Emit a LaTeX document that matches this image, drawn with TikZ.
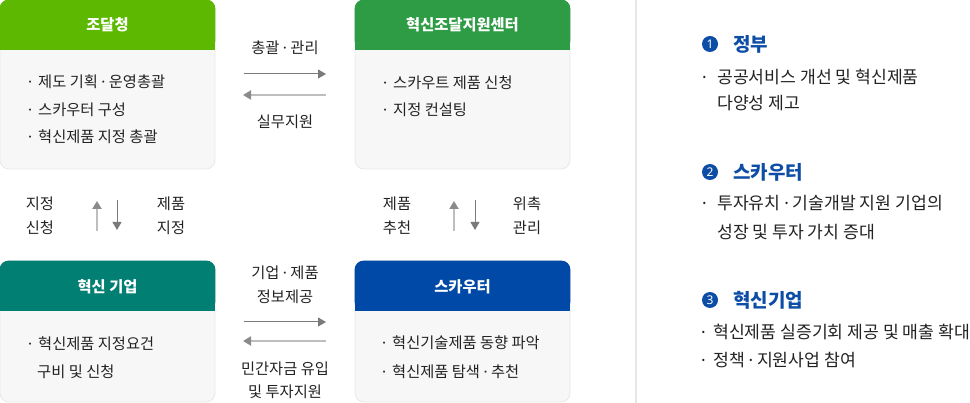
\documentclass[tikz,border=0pt]{standalone}
\usepackage{fontspec}
\setmainfont{Noto Sans CJK KR}
\newfontfamily\dotfont{Noto Sans}
\usetikzlibrary{arrows.meta}
\definecolor{cgA}{HTML}{5CB800}
\definecolor{cgB}{HTML}{2E9C45}
\definecolor{cteal}{HTML}{007F72}
\definecolor{cblue}{HTML}{0049A7}
\definecolor{chead}{HTML}{0D4DA5}
\definecolor{cbody}{HTML}{F7F7F7}
\definecolor{cbord}{HTML}{E8E8E8}
\definecolor{ctext}{HTML}{222222}
\definecolor{cfwd}{HTML}{7A7A7A}
\definecolor{cback}{HTML}{BEBEBE}
\definecolor{cbackhd}{HTML}{8A8A8A}
\definecolor{cdiv}{HTML}{E6E6E6}
\tikzset{
  bodybox/.style={draw=cbord, fill=cbody, line width=0.8pt, rounded corners=9pt,
    minimum width=215pt, minimum height=#1, inner sep=0pt},
  hdrtxt/.style={text=white, font=\bfseries\fontsize{15.3}{17}\selectfont, inner sep=0pt},
  bodytxt/.style={anchor=west, font=\fontsize{15.3}{17}\selectfont, text=ctext, inner sep=0pt},
  lbl/.style={font=\fontsize{15.3}{17}\selectfont, text=ctext, inner sep=0pt},
  rtxt/.style={anchor=west, font=\fontsize{17.2}{19}\selectfont, text=ctext, inner sep=0pt},
  rhead/.style={anchor=west, font=\bfseries\fontsize{19}{21}\selectfont, text=chead, inner sep=0pt},
  numdot/.style={circle, fill=chead, text=white, minimum size=16pt, inner sep=0pt,
    font=\dotfont\bfseries\fontsize{12}{12}\selectfont},
  fwd/.style={draw=cfwd, line width=1pt, -{Triangle[width=9pt,length=8pt]}},
  back/.style={draw=cback, line width=2.2pt, -{Triangle[width=9pt,length=8pt,color=cbackhd]}},
}
\newcommand{\md}{{\dotfont ·}}
\newcommand{\bl}[1]{\makebox[10pt][l]{\md}#1}
\begin{document}
\begin{tikzpicture}[x=1pt,y=-1pt]
\useasboundingbox (0,0) rectangle (970,403);

% ---------- boxes ----------
\node[bodybox=169pt] (b1) at (107.5,84.5) {};
\node[bodybox=169pt] (b2) at (462.5,84.5) {};
\node[bodybox=141pt] (b3) at (107.5,331.5) {};
\node[bodybox=141pt] (b4) at (462.5,331.5) {};

% headers
\fill[cgA, rounded corners=9pt] (b1.north west) rectangle ([yshift=-50pt]b1.north east);
\fill[cgA] ([yshift=-30pt]b1.north west) rectangle ([yshift=-50pt]b1.north east);
\fill[cgB, rounded corners=9pt] (b2.north west) rectangle ([yshift=-50pt]b2.north east);
\fill[cgB] ([yshift=-30pt]b2.north west) rectangle ([yshift=-50pt]b2.north east);
\fill[cteal, rounded corners=9pt] (b3.north west) rectangle ([yshift=-50pt]b3.north east);
\fill[cteal] ([yshift=-30pt]b3.north west) rectangle ([yshift=-50pt]b3.north east);
\fill[cblue, rounded corners=9pt] (b4.north west) rectangle ([yshift=-50pt]b4.north east);
\fill[cblue] ([yshift=-30pt]b4.north west) rectangle ([yshift=-50pt]b4.north east);

\node[hdrtxt] (h1) at (107.5,25) {조달청};
\node[hdrtxt] (h2) at (462.5,25) {혁신조달지원센터};
\node[hdrtxt] (h3) at (107.5,287) {혁신 기업};
\node[hdrtxt] (h4) at (462.5,287) {스카우터};

% body texts
\node[bodytxt] (t11) at (28,82) {\bl{제도 기획 \md{} 운영총괄}};
\node[bodytxt] (t12) at (28,110) {\bl{스카우터 구성}};
\node[bodytxt] (t13) at (28,137) {\bl{혁신제품 지정 총괄}};
\node[bodytxt] (t21) at (383,83) {\bl{스카우트 제품 신청}};
\node[bodytxt] (t22) at (383,110) {\bl{지정 컨설팅}};
\node[bodytxt] (t31) at (28,344) {\bl{혁신제품 지정요건}};
\node[bodytxt] (t32) at (37,372) {구비 및 신청};
\node[bodytxt] (t41) at (382,343) {\bl{혁신기술제품 동향 파악}};
\node[bodytxt] (t42) at (382,372) {\bl{혁신제품 탐색 \md{} 추천}};

% ---------- connectors ----------
\coordinate (a1s) at (244,74);  \coordinate (a1e) at (326,74);
\coordinate (a2s) at (326,95);  \coordinate (a2e) at (243,95);
\coordinate (a3s) at (244,322); \coordinate (a3e) at (326,322);
\coordinate (a4s) at (326,341); \coordinate (a4e) at (243,341);
\coordinate (v1s) at (97,231);  \coordinate (v1e) at (97,201);
\coordinate (v2s) at (117,200); \coordinate (v2e) at (117,230);
\coordinate (v3s) at (454,231); \coordinate (v3e) at (454,201);
\coordinate (v4s) at (475,200); \coordinate (v4e) at (475,230);
\draw[fwd] (a1s) -- (a1e);
\draw[back] (a2s) -- (a2e);
\draw[fwd] (a3s) -- (a3e);
\draw[back] (a4s) -- (a4e);
\draw[back] (v1s) -- (v1e);
\draw[fwd] (v2s) -- (v2e);
\draw[back] (v3s) -- (v3e);
\draw[fwd] (v4s) -- (v4e);

% connector labels
\node[lbl] (l1) at (285,48) {총괄 \md{} 관리};
\node[lbl] (l2) at (285,122) {실무지원};
\node[lbl] (l3) at (285,273) {기업 \md{} 제품};
\node[lbl] (l4) at (285,297) {정보제공};
\node[lbl] (l5) at (285,369) {민간자금 유입};
\node[lbl] (l6) at (285,392) {및 투자지원};
\node[lbl] (l7) at (40,204) {지정};
\node[lbl] (l8) at (40,228) {신청};
\node[lbl] (l9) at (171,204) {제품};
\node[lbl] (l10) at (171,228) {지정};
\node[lbl] (l11) at (397,204) {제품};
\node[lbl] (l12) at (397,228) {추천};
\node[lbl] (l13) at (527,204) {위촉};
\node[lbl] (l14) at (527,228) {관리};

% ---------- divider ----------
\coordinate (dtop) at (636,0);
\coordinate (dbot) at (636,403);
\draw[cdiv, line width=2pt] (dtop) -- (dbot);

% ---------- right legend ----------
\node[numdot] (n1) at (710,44) {1};
\node[rhead] (r1) at (733,44) {정부};
\node[rtxt] (r11) at (702,77) {\makebox[15pt][l]{\md}공공서비스 개선 및 혁신제품};
\node[rtxt] (r12) at (717,103) {다양성 제고};

\node[numdot] (n2) at (710,172) {2};
\node[rhead] (r2) at (733,172) {스카우터};
\node[rtxt] (r21) at (702,203) {\makebox[15pt][l]{\md}투자유치 \md{} 기술개발 지원 기업의};
\node[rtxt] (r22) at (717,232) {성장 및 투자 가치 증대};

\node[numdot] (n3) at (710,300) {3};
\node[rhead] (r3) at (733,300) {혁신기업};
\node[rtxt] (r31) at (701,332) {\makebox[12pt][l]{\md}혁신제품 실증기회 제공 및 매출 확대};
\node[rtxt] (r32) at (701,360) {\makebox[12pt][l]{\md}정책 \md{} 지원사업 참여};
\end{tikzpicture}
\end{document}
